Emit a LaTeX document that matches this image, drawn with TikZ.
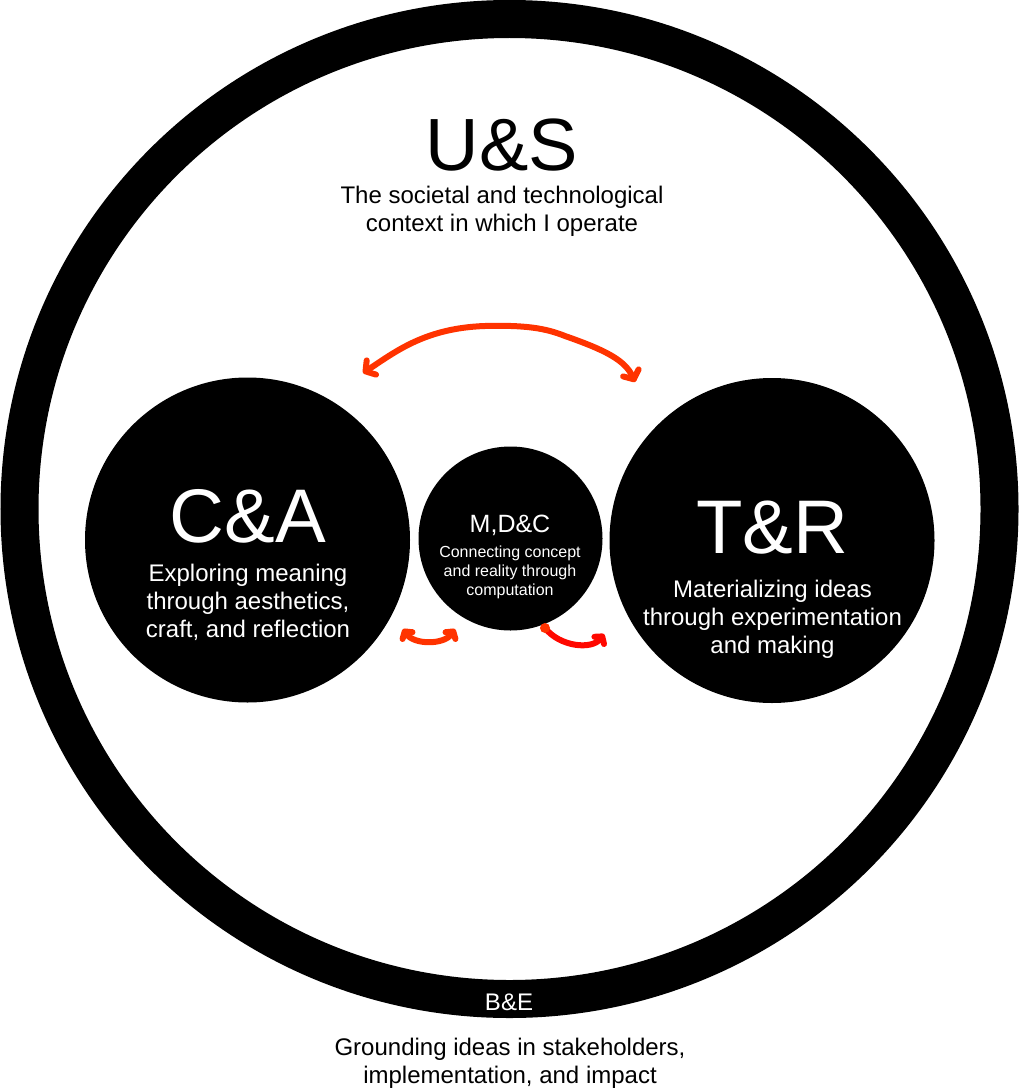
\documentclass[tikz,border=0pt]{standalone}
\usepackage{fontspec}
\setmainfont{Liberation Sans}
\usetikzlibrary{arrows.meta}
\definecolor{arrowred}{RGB}{255,51,0}
\definecolor{purered}{RGB}{255,8,0}
\tikzset{
  blackdisc/.style={circle, fill=black, inner sep=0pt},
  bigtitle/.style={anchor=base, inner sep=0pt, font=\fontsize{76}{80}\selectfont},
  bodytext/.style={anchor=base, inner sep=0pt, align=center, font=\fontsize{24}{28}\selectfont},
  smalltext/.style={anchor=base, inner sep=0pt, align=center, font=\fontsize{16}{19}\selectfont},
  handarrow/.style={line width=6pt, line cap=round, line join=round},
  barb/.tip={Straight Barb[length=7pt, width=17pt, round]},
  smallbarb/.tip={Straight Barb[length=5pt, width=12pt, round]}
}
\begin{document}
\begin{tikzpicture}[x=1pt, y=-1pt]
\useasboundingbox (0,0) rectangle (1019,1089);
% outer ring
\node[circle, draw=black, line width=38pt, minimum size=980pt, inner sep=0pt] (ring) at (509.5,509) {};
% discs
\node[blackdisc, minimum size=325pt] (ca) at (247.5,540) {};
\node[blackdisc, minimum size=325pt] (tr) at (772,540.5) {};
\node[blackdisc, minimum size=184pt] (mdc) at (510.5,538.5) {};
% texts (anchor base = baseline of the last line)
\node[bigtitle, font=\fontsize{74}{80}\selectfont] (us) at (502,170) {U\&S};
\node[bodytext] (ustext) at (502,231) {The societal and technological\\context in which I operate};
\node[bigtitle, text=white] (catitle) at (248,542) {C\&A};
\node[bodytext, text=white] (catext) at (248,637) {Exploring meaning\\through aesthetics,\\craft, and reflection};
\node[bigtitle, text=white] (trtitle) at (772.5,553) {T\&R};
\node[bodytext, text=white] (trtext) at (772.5,653) {Materializing ideas\\through experimentation\\and making};
\node[anchor=base, inner sep=0pt, text=white, font=\fontsize{25}{28}\selectfont] (mdctitle) at (510,532) {M,D\&C};
\node[smalltext, text=white] (mdctext) at (510,595) {Connecting concept\\and reality through\\computation};
\node[anchor=base, inner sep=0pt, text=white, font=\fontsize{24}{28}\selectfont] (be) at (509,1010) {B\&E};
\node[bodytext] (betext) at (510,1083) {Grounding ideas in stakeholders,\\implementation, and impact};
% arrow end points
\coordinate (a1) at (363,373);
\coordinate (a2) at (635,382);
\coordinate (b1) at (403,629);
\coordinate (b2) at (455,629);
\coordinate (c1) at (545,628);
\coordinate (c2) at (604,634);
% hand-drawn arrows
\draw[handarrow, arrowred, {barb}-{barb}] (a1) .. controls (395,352) and (425,328) .. (485,326)
   .. controls (525,325) and (545,328) .. (565,336) .. controls (605,350) and (625,360) .. (a2);
\draw[handarrow, arrowred, {smallbarb}-{smallbarb}] (b1) .. controls (414,645) and (444,645) .. (b2);
\draw[handarrow, purered, -{smallbarb}] (c1) .. controls (560,647) and (592,650) .. (c2);
\fill[arrowred] (c1) circle[radius=5pt];
\end{tikzpicture}
\end{document}
